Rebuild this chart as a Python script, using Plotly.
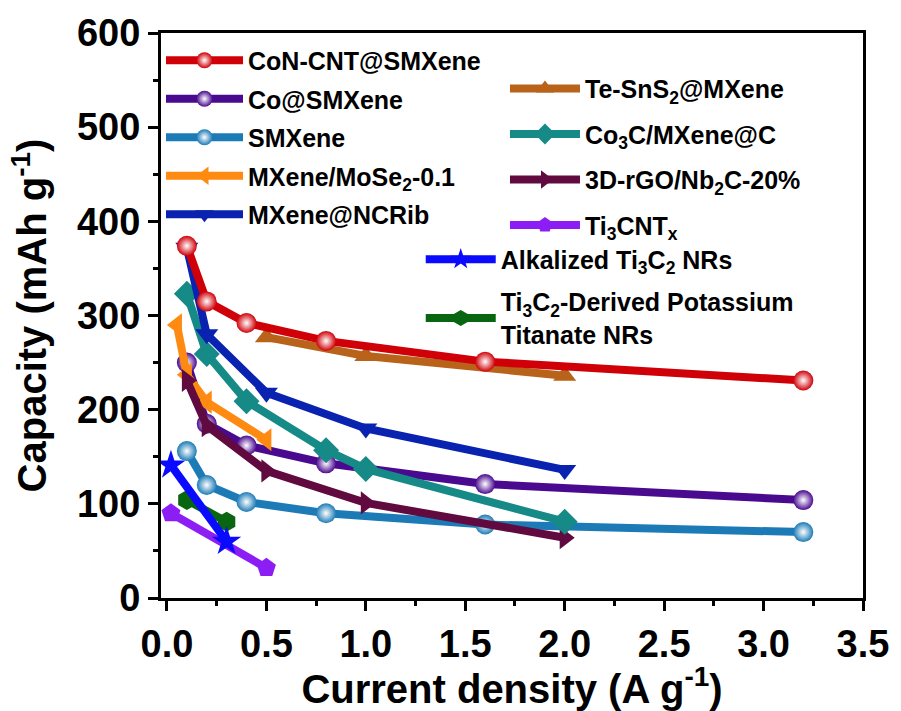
import plotly.graph_objects as go

# Rate capability data: current density (A g^-1) vs. capacity (mAh g^-1)
con_cnt_x = [0.1, 0.2, 0.4, 0.8, 1.6, 3.2]
con_cnt_y = [374, 315, 292, 273, 251, 231]

co_smx_x = [0.1, 0.2, 0.4, 0.8, 1.6, 3.2]
co_smx_y = [250, 185, 162, 143, 121, 104]

smx_x = [0.1, 0.2, 0.4, 0.8, 1.6, 3.2]
smx_y = [156, 120, 102, 90, 78, 70]

mose2_x = [0.05, 0.1, 0.2, 0.5]
mose2_y = [290, 237, 208, 168]

ncrib_x = [0.1, 0.2, 0.5, 1.0, 2.0]
ncrib_y = [372, 280, 218, 180, 136]

tesns2_x = [0.5, 1.0, 2.0]
tesns2_y = [277, 257, 236]

co3c_x = [0.1, 0.2, 0.4, 0.8, 1.0, 2.0]
co3c_y = [323, 259, 209, 157, 137, 81]

rgo_nb2c_x = [0.1, 0.2, 0.5, 1.0, 2.0]
rgo_nb2c_y = [231, 183, 135, 101, 64]

ti3cn_x = [0.02, 0.5]
ti3cn_y = [90, 32]

alk_x = [0.02, 0.3]
alk_y = [141, 60]

kto_x = [0.1, 0.3]
kto_y = [104, 81]

x_ticks = [0.0, 0.5, 1.0, 1.5, 2.0, 2.5, 3.0, 3.5]
y_ticks = [0, 100, 200, 300, 400, 500, 600]

FONT = "Liberation Sans"

# (name, x, y, colour, symbol, legend, rank); drawing order is bottom to top
series = [
    ("Ti<sub>3</sub>CNT<sub>x</sub>", ti3cn_x, ti3cn_y, "#8c1ef5", "pentagon", "legend2", 4),
    ("Ti<sub>3</sub>C<sub>2</sub>-Derived Potassium<br>Titanate NRs", kto_x, kto_y, "#07660f", "hexagon", "legend3", 2),
    ("Alkalized Ti<sub>3</sub>C<sub>2</sub> NRs", alk_x, alk_y, "#0a0aff", "star", "legend3", 1),
    ("SMXene", smx_x, smx_y, "#1c7bb6", "circle", "legend", 3),
    ("Co@SMXene", co_smx_x, co_smx_y, "#4a0a90", "circle", "legend", 2),
    ("MXene/MoSe<sub>2</sub>-0.1", mose2_x, mose2_y, "#ff8a12", "triangle-left", "legend", 4),
    ("3D-rGO/Nb<sub>2</sub>C-20%", rgo_nb2c_x, rgo_nb2c_y, "#600a40", "triangle-right", "legend2", 3),
    ("Co<sub>3</sub>C/MXene@C", co3c_x, co3c_y, "#168a86", "diamond", "legend2", 2),
    ("MXene@NCRib", ncrib_x, ncrib_y, "#0a22b0", "triangle-down", "legend", 5),
    ("Te-SnS<sub>2</sub>@MXene", tesns2_x, tesns2_y, "#b8621a", "triangle-up", "legend2", 1),
    ("CoN-CNT@SMXene", con_cnt_x, con_cnt_y, "#d00008", "circle", "legend", 1),
]

fig = go.Figure()
for i, (name, xs, ys, color, symbol, leg, rank) in enumerate(series):
    marker = dict(symbol=symbol, size=20, color=color, line=dict(width=0))
    if symbol == "circle":
        marker["gradient"] = dict(type="radial", color="#ffffff")
    if symbol == "star":
        marker["size"] = 22
    fig.add_trace(go.Scatter(
        x=xs, y=ys, name=name, mode="lines+markers",
        line=dict(color=color, width=8),
        marker=marker,
        legend=leg, legendrank=rank, legendgroup=f"g{i}",
    ))

axis_common = dict(
    showline=True, linewidth=3, linecolor="black", mirror=True,
    ticks="outside", ticklen=10, tickwidth=3, tickcolor="black",
    showgrid=False, zeroline=False,
    tickfont=dict(family=FONT, size=38, color="black", weight="bold"),
)

legend_common = dict(
    bgcolor="rgba(0,0,0,0)", borderwidth=0,
    font=dict(family=FONT, size=25, color="black", weight="bold"),
    traceorder="grouped",
    xanchor="left", yanchor="top",
)

fig.update_layout(
    width=901, height=711,
    margin=dict(l=161, r=35, t=32, b=108),
    plot_bgcolor="white", paper_bgcolor="white",
    font=dict(family=FONT, color="black", weight="bold"),
    xaxis=dict(
        range=[-0.03, 3.5], tickvals=x_ticks,
        ticktext=[f"{v:.1f}" for v in x_ticks],
        minor=dict(dtick=0.25, ticklen=5, tickwidth=3, tickcolor="black", ticks="outside"),
        title=dict(text="Current density (A g<sup>-1</sup>)",
                   font=dict(family=FONT, size=40, color="black", weight="bold"),
                   standoff=6),
        **axis_common,
    ),
    yaxis=dict(
        range=[0, 600], tickvals=y_ticks,
        minor=dict(dtick=50, ticklen=5, tickwidth=3, tickcolor="black", ticks="outside"),
        title=dict(text="Capacity (mAh g<sup>-1</sup>)",
                   font=dict(family=FONT, size=40, color="black", weight="bold"),
                   standoff=18),
        **axis_common,
    ),
    legend=dict(x=0.0, y=0.992, itemwidth=77, tracegroupgap=3, **legend_common),
    legend2=dict(x=0.49, y=0.942, itemwidth=70, tracegroupgap=10, **legend_common),
    legend3=dict(x=0.37, y=0.64, itemwidth=70, tracegroupgap=7, **legend_common),
)

fig.write_html("out.html")
